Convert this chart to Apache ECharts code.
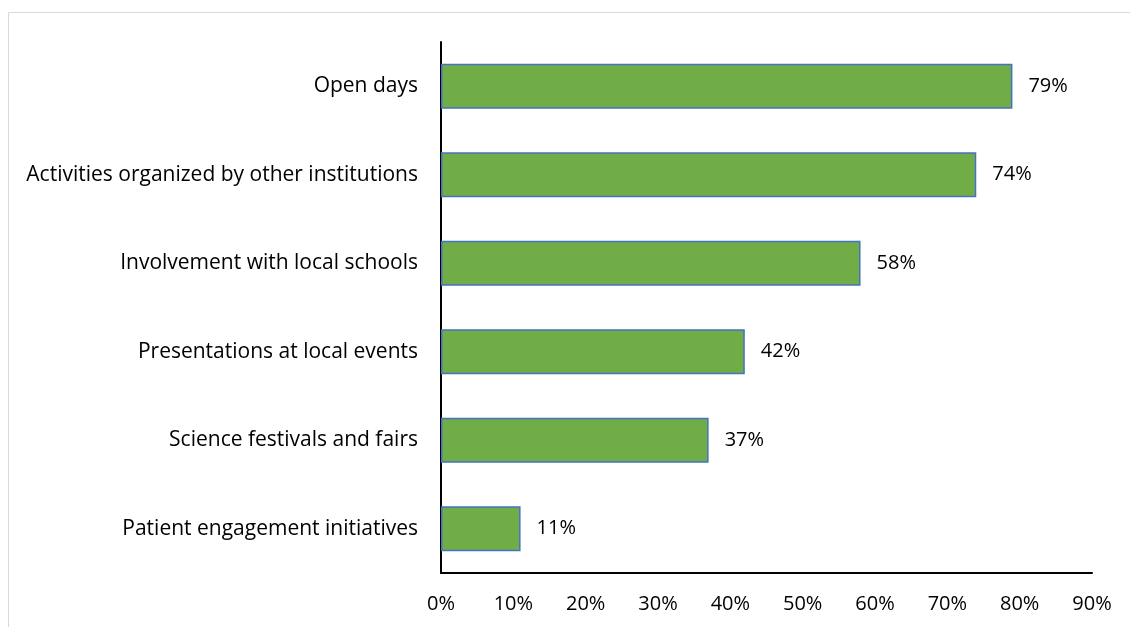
<!DOCTYPE html>
<html>
<head>
<meta charset="utf-8">
<script src="https://cdn.jsdelivr.net/npm/echarts@6/dist/echarts.min.js"></script>
<style>
  html, body { margin: 0; padding: 0; background: #ffffff; }
  #chart { width: 1130px; height: 627px; }
</style>
</head>
<body>
<div id="chart"></div>
<script>
// Outreach activities, share of respondents (%)
const categories = [
  'Patient engagement initiatives',
  'Science festivals and fairs',
  'Presentations at local events',
  'Involvement with local schools',
  'Activities organized by other institutions',
  'Open days'
];
const shares = [11, 37, 42, 58, 74, 79];
const axisMax = 90;
const axisStep = 10;

const FONT = 'Open Sans';
const SIZE = 21;
const chart = echarts.init(document.getElementById('chart'), null, { renderer: 'canvas' });

chart.setOption({
  animation: false,
  backgroundColor: '#ffffff',
  graphic: [{
    type: 'rect',
    shape: { x: 8.5, y: 12.5, width: 1200, height: 700 },
    style: { fill: 'none', stroke: '#d9d9d9', lineWidth: 1 },
    silent: true
  }],
  grid: { left: 441, right: 38, top: 42, bottom: 54, containLabel: false },
  xAxis: {
    type: 'value',
    min: 0,
    max: axisMax,
    interval: axisStep,
    axisLine: { show: true, lineStyle: { color: '#000000', width: 2 } },
    axisTick: { show: false },
    splitLine: { show: false },
    axisLabel: {
      formatter: v => v + '%',
      color: '#000000',
      fontFamily: FONT,
      fontSize: 20,
      margin: 21
    }
  },
  yAxis: {
    type: 'category',
    data: categories,
    axisLine: { show: true, lineStyle: { color: '#000000', width: 2 } },
    axisTick: { show: false },
    axisLabel: {
      color: '#000000',
      fontFamily: FONT,
      fontSize: SIZE,
      margin: 23,
      padding: [3, 0, 0, 0]
    }
  },
  series: [{
    type: 'bar',
    data: shares,
    barWidth: '51%',
    itemStyle: { color: '#70ad47', borderColor: '#4472c4', borderWidth: 1.5 },
    label: {
      show: true,
      position: 'right',
      distance: 16,
      formatter: p => p.value + '%',
      color: '#000000',
      fontFamily: FONT,
      fontSize: 20,
      padding: [3, 0, 0, 0]
    }
  }]
});
</script>
</body>
</html>
